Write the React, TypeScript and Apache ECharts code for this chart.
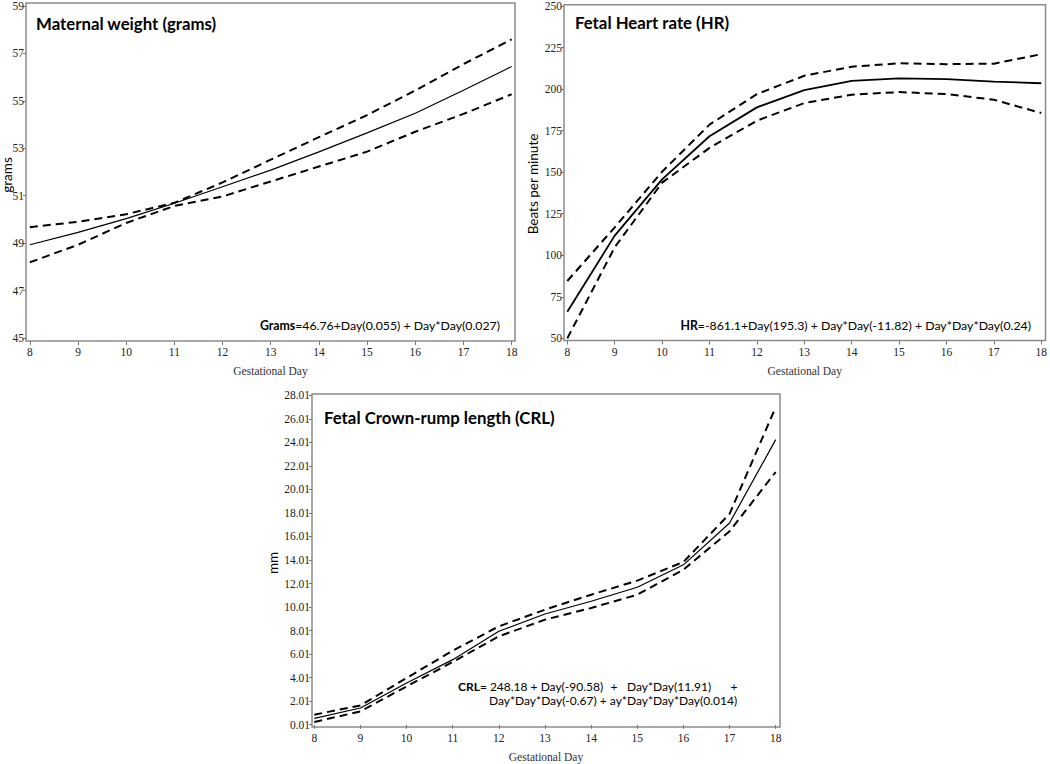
import React, { useEffect, useRef } from "react";
import * as echarts from "echarts";

const DAYS = [8, 9, 10, 11, 12, 13, 14, 15, 16, 17, 18];

const GRAMS_UPPER = [49.67, 49.9, 50.22, 50.7, 51.56, 52.52, 53.47, 54.4, 55.44, 56.55, 57.6];
const GRAMS_FIT = [48.93, 49.45, 50.03, 50.68, 51.38, 52.08, 52.85, 53.65, 54.48, 55.45, 56.45];
const GRAMS_LOWER = [48.19, 48.93, 49.85, 50.57, 50.97, 51.6, 52.23, 52.86, 53.7, 54.45, 55.28];

const HR_UPPER = [84.5, 116.8, 150.3, 178.6, 197, 208, 213.5, 215.5, 215, 215.3, 221];
const HR_FIT = [66, 111.8, 145.7, 171.6, 189, 199.4, 205, 206.5, 206, 204.5, 203.5];
const HR_LOWER = [50, 104.8, 143.7, 164.6, 181, 191.6, 196.6, 198.2, 197, 193.6, 185.6];

const CRL_UPPER = [0.86, 1.65, 3.98, 6.3, 8.37, 9.79, 11.06, 12.26, 13.84, 17.93, 27.0];
const CRL_FIT = [0.55, 1.43, 3.56, 5.54, 7.95, 9.42, 10.5, 11.69, 13.6, 17.16, 24.24];
const CRL_LOWER = [0.24, 1.14, 3.27, 5.34, 7.52, 8.94, 9.93, 11.06, 13.19, 16.45, 21.49];

const GRAMS_TICKS = [45, 47, 49, 51, 53, 55, 57, 59];
const HR_TICKS = [50, 75, 100, 125, 150, 175, 200, 225, 250];
const CRL_TICKS = [0.01, 2.01, 4.01, 6.01, 8.01, 10.01, 12.01, 14.01, 16.01, 18.01, 20.01, 22.01, 24.01, 26.01, 28.01];

const TITLES = ["Maternal weight (grams)", "Fetal Heart rate (HR)", "Fetal Crown-rump length (CRL)"];
const Y_NAMES = ["grams", "Beats per minute", "mm"];
const X_NAME = "Gestational Day";

function pairs(v: number[]) {
  return DAYS.map((d, i) => [d, v[i]]);
}

export default function App() {
  const ref = useRef<HTMLDivElement>(null);
  useEffect(() => {
    document.body.style.margin = "0";
    const chart = echarts.init(ref.current!, null, { renderer: "svg" });
    const serif = "'Liberation Serif', 'Times New Roman', serif";
    const sans = "Lato, 'Noto Sans', sans-serif";
    const tickText = { fontFamily: serif, fontSize: 11.5, color: "#222" };

    const grids = [
      { left: 26, top: 3, width: 489, height: 338 },
      { left: 564, top: 2, width: 484, height: 338.5 },
      { left: 312, top: 394, width: 468, height: 333 },
    ];
    const xRanges = [
      [7.92, 18.07],
      [7.93, 18.09],
      [7.95, 18.093],
    ];
    const yRanges = [
      [44.87, 59.13],
      [48.7, 250.8],
      [-0.185, 28.12],
    ];
    const yTicks = [GRAMS_TICKS, HR_TICKS, CRL_TICKS];
    const seriesSets = [
      [GRAMS_UPPER, GRAMS_FIT, GRAMS_LOWER],
      [HR_UPPER, HR_FIT, HR_LOWER],
      [CRL_UPPER, CRL_FIT, CRL_LOWER],
    ];
    const fitWidths = [1.2, 1.8, 1.2];

    const series: any[] = [];
    seriesSets.forEach((set, k) => {
      set.forEach((vals, j) => {
        series.push({
          type: "line",
          xAxisIndex: k,
          yAxisIndex: k,
          data: pairs(vals),
          symbol: "none",
          silent: true,
          lineStyle:
            j === 1
              ? { color: "#000", width: fitWidths[k], type: "solid" }
              : { color: "#000", width: 2, type: [8, 5] },
        });
      });
    });

    const titlePos = [
      [36, 23],
      [575, 22],
      [324, 417],
    ];

    const graphic: any[] = [];
    TITLES.forEach((t, k) => {
      graphic.push({
        type: "text",
        x: titlePos[k][0],
        y: titlePos[k][1],
        style: {
          text: t,
          fontFamily: sans,
          fontWeight: "bold",
          fontSize: 16.8,
          fill: "#000",
          verticalAlign: "middle",
        },
      });
    });
    const yNamePos = [
      [7, 175],
      [533, 184],
      [273, 563],
    ];
    Y_NAMES.forEach((t, k) => {
      graphic.push({
        type: "text",
        x: yNamePos[k][0],
        y: yNamePos[k][1],
        rotation: Math.PI / 2,
        style: {
          text: t,
          fontFamily: sans,
          fontSize: 13.5,
          fill: "#000",
          align: "center",
          verticalAlign: "middle",
        },
      });
    });
    const eqStyle = (text: string, align: string, size: number) => ({
      text,
      fontFamily: sans,
      fontSize: size,
      fill: "#000",
      align,
      verticalAlign: "middle",
      rich: { b: { fontWeight: "bold", fontFamily: sans, fontSize: size, fill: "#000" } },
    });
    const EQ = 12.3;
    const EQ3 = 12;
    graphic.push(
      { type: "text", x: 500, y: 325, style: eqStyle("{b|Grams}=46.76+Day(0.055) + Day*Day(0.027)", "right", EQ) },
      { type: "text", x: 1031, y: 325, style: eqStyle("{b|HR}=-861.1+Day(195.3) + Day*Day(-11.82) + Day*Day*Day(0.24)", "right", EQ) },
      { type: "text", x: 458, y: 686, style: eqStyle("{b|CRL}= 248.18 + Day(-90.58)", "left", EQ3) },
      { type: "text", x: 614, y: 686, style: eqStyle("+", "center", EQ3) },
      { type: "text", x: 627, y: 686, style: eqStyle("Day*Day(11.91)", "left", EQ3) },
      { type: "text", x: 734, y: 686, style: eqStyle("+", "center", EQ3) },
      { type: "text", x: 489, y: 700, style: eqStyle("Day*Day*Day(-0.67) + ay*Day*Day*Day(0.014)", "left", EQ3) }
    );

    chart.setOption({
      animation: false,
      backgroundColor: "#fff",
      grid: grids.map((g) => ({
        ...g,
        show: true,
        borderColor: "#8c8c8c",
        borderWidth: 1.5,
        backgroundColor: "transparent",
      })),
      xAxis: grids.map((_, k) => ({
        type: "value",
        gridIndex: k,
        min: xRanges[k][0],
        max: xRanges[k][1],
        axisLine: { show: false },
        splitLine: { show: false },
        axisTick: { show: true, length: 4, customValues: DAYS, lineStyle: { color: "#777" } },
        axisLabel: { customValues: DAYS, margin: 5, ...tickText },
        name: X_NAME,
        nameLocation: "middle",
        nameGap: 24,
        nameTextStyle: { fontFamily: serif, fontSize: 11.5, color: "#333" },
      })),
      yAxis: grids.map((_, k) => ({
        type: "value",
        gridIndex: k,
        min: yRanges[k][0],
        max: yRanges[k][1],
        axisLine: { show: false },
        splitLine: { show: false },
        axisTick: { show: true, length: 3, customValues: yTicks[k], lineStyle: { color: "#777" } },
        axisLabel: {
          customValues: yTicks[k],
          margin: 2,
          ...tickText,
          formatter: (v: number) => (k === 2 ? v.toFixed(2) : String(Math.round(v))),
        },
      })),
      series,
      graphic,
    });
    return () => chart.dispose();
  }, []);
  return <div ref={ref} style={{ width: 1050, height: 764 }} />;
}
